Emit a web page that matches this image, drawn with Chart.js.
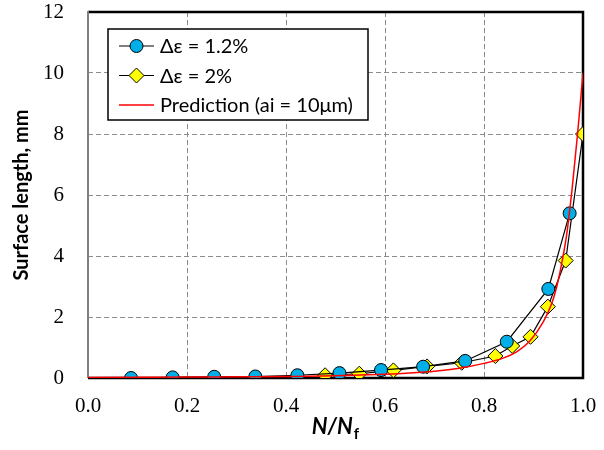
<!DOCTYPE html>
<html><head><meta charset="utf-8">
<script src="https://cdn.jsdelivr.net/npm/chart.js@4/dist/chart.umd.min.js"></script>
<style>html,body{margin:0;padding:0;background:#fff;} canvas{display:block;}</style>
</head><body>
<canvas id="c" width="604" height="450"></canvas>
<script>
// ---- data ----
const xTicks = [0.0, 0.2, 0.4, 0.6, 0.8, 1.0];
const yTicks = [0, 2, 4, 6, 8, 10, 12];
const blueX = [0.087, 0.171, 0.255, 0.338, 0.423, 0.508, 0.592, 0.677, 0.762, 0.846, 0.930, 0.973];
const blueY = [0.0, 0.02, 0.04, 0.05, 0.09, 0.16, 0.26, 0.37, 0.56, 1.19, 2.92, 5.4];
const yellowX = [0.479, 0.548, 0.617, 0.685, 0.755, 0.823, 0.857, 0.894, 0.929, 0.965, 1.0];
const yellowY = [0.09, 0.14, 0.25, 0.38, 0.50, 0.72, 1.05, 1.35, 2.34, 3.85, 8.0];
const predX = [0, 0.1, 0.2, 0.3, 0.4, 0.5, 0.6, 0.65, 0.7, 0.75, 0.8, 0.84, 0.865, 0.893, 0.92, 0.937, 0.947, 0.957, 0.967, 0.978, 0.989, 1.0];
const predY = [0.02, 0.025, 0.03, 0.04, 0.05, 0.07, 0.12, 0.16, 0.22, 0.32, 0.48, 0.66, 0.85, 1.22, 1.85, 2.45, 3.0, 3.76, 4.7, 6.2, 8.0, 10.0];
const seriesLabels = ['Δε = 1.2%', 'Δε = 2%', 'Prediction (ai = 10μm)'];
const yTitle = 'Surface length, mm';
const xTitleMain = 'N/N';
const xTitleSub = 'f';

const toPts = (xs, ys) => xs.map((x, i) => ({ x: x, y: ys[i] }));
const SANS = 'Lato, "Open Sans", sans-serif';
const SERIF = '"Liberation Serif", "Times New Roman", serif';

const framePlugin = {
  id: 'frame',
  beforeDatasetsDraw(chart) {
    const { ctx, chartArea: a } = chart;
    ctx.save();
    ctx.lineWidth = 2.5;
    ctx.strokeStyle = '#000';
    ctx.beginPath();
    ctx.moveTo(a.left, a.top);
    ctx.lineTo(a.right, a.top);
    ctx.lineTo(a.right, a.bottom);
    ctx.lineTo(a.left, a.bottom);
    ctx.stroke();
    ctx.strokeStyle = '#808080';
    ctx.lineWidth = 2;
    ctx.beginPath();
    ctx.moveTo(a.left, a.top - 1);
    ctx.lineTo(a.left, a.bottom);
    ctx.stroke();
    ctx.restore();
  }
};

function drawMarker(ctx, ds, x, y) {
  if (!ds.pointRadius) return;
  ctx.fillStyle = ds.pointBackgroundColor;
  ctx.strokeStyle = ds.pointBorderColor;
  ctx.lineWidth = ds.pointBorderWidth;
  ctx.beginPath();
  const r = ds.pointRadius;
  if (ds.pointStyle === 'rectRot') {
    ctx.moveTo(x, y - r); ctx.lineTo(x + r, y); ctx.lineTo(x, y + r); ctx.lineTo(x - r, y); ctx.closePath();
  } else {
    ctx.arc(x, y, r, 0, Math.PI * 2);
  }
  ctx.fill(); ctx.stroke();
}

const legendPlugin = {
  id: 'boxLegend',
  afterDraw(chart) {
    const { ctx, chartArea: a } = chart;
    const bx = a.left + 20, by = a.top + 17, bw = 260, bh = 91;
    ctx.save();
    ctx.fillStyle = '#fff';
    ctx.fillRect(bx, by, bw, bh);
    ctx.strokeStyle = '#000';
    ctx.lineWidth = 1.5;
    ctx.strokeRect(bx, by, bw, bh);
    const order = [1, 2, 0];
    order.forEach((di, row) => {
      const ds = chart.data.datasets[di];
      const cy = by + 17 + row * 29.5;
      const x0 = bx + 11, x1 = bx + 46;
      ctx.strokeStyle = ds.borderColor;
      ctx.lineWidth = ds.borderWidth;
      ctx.beginPath(); ctx.moveTo(x0, cy); ctx.lineTo(x1, cy); ctx.stroke();
      drawMarker(ctx, ds, (x0 + x1) / 2, cy);
      ctx.fillStyle = '#000';
      ctx.font = '20px ' + SANS;
      ctx.textBaseline = 'middle';
      ctx.textAlign = 'left';
      ctx.fillText(ds.label, bx + 52, cy + 1);
    });
    ctx.restore();
  }
};

const xTitlePlugin = {
  id: 'xTitle',
  afterDraw(chart) {
    const { ctx, chartArea: a } = chart;
    ctx.save();
    ctx.fillStyle = '#000';
    ctx.textBaseline = 'alphabetic';
    ctx.textAlign = 'left';
    const mainFont = 'italic bold 22px ' + SANS;
    const subFont = 'bold 15px ' + SANS;
    ctx.font = mainFont;
    const w1 = ctx.measureText(xTitleMain).width;
    ctx.font = subFont;
    const w2 = ctx.measureText(xTitleSub).width;
    const cx = (a.left + a.right) / 2;
    const x = cx - (w1 + w2 + 1) / 2;
    const base = 434;
    ctx.font = mainFont;
    ctx.fillText(xTitleMain, x, base);
    ctx.font = subFont;
    ctx.fillText(xTitleSub, x + w1 + 1, base + 5);
    ctx.restore();
  }
};

new Chart(document.getElementById('c'), {
  type: 'scatter',
  data: {
    datasets: [
      {
        label: seriesLabels[2], data: toPts(predX, predY), showLine: true,
        borderColor: '#ff0000', borderWidth: 1.5, pointRadius: 0, pointHoverRadius: 0,
        cubicInterpolationMode: 'monotone', order: 0
      },
      {
        label: seriesLabels[0], data: toPts(blueX, blueY), showLine: true,
        borderColor: '#000', borderWidth: 1.2, pointStyle: 'circle', pointRadius: 6.5,
        pointBackgroundColor: '#00aee8', pointBorderColor: '#000', pointBorderWidth: 1, order: 1
      },
      {
        label: seriesLabels[1], data: toPts(yellowX, yellowY), showLine: true,
        borderColor: '#000', borderWidth: 1.2, pointStyle: 'rectRot', pointRadius: 7.5,
        pointBackgroundColor: '#ffff00', pointBorderColor: '#000', pointBorderWidth: 1, order: 1
      }
    ]
  },
  options: {
    responsive: false,
    animation: false,
    layout: { padding: { left: 0, top: 12, right: 21, bottom: 0 } },
    plugins: { legend: { display: false }, tooltip: { enabled: false } },
    scales: {
      x: {
        type: 'linear', min: 0, max: 1,
        afterBuildTicks: s => { s.ticks = xTicks.map(v => ({ value: v })); },
        afterFit: s => { s.height = 72; s.paddingLeft = 0; s.paddingRight = 0; },
        ticks: { color: '#000', font: { family: SERIF, size: 21 }, padding: 16, maxRotation: 0,
                 callback: v => Number(v).toFixed(1) },
        grid: { color: '#8c8c8c', lineWidth: 1, drawTicks: false },
        border: { display: false, dash: [5, 3] }
      },
      y: {
        type: 'linear', min: 0, max: 12,
        afterBuildTicks: s => { s.ticks = yTicks.map(v => ({ value: v })); },
        afterFit: s => { s.width = 88; s.paddingTop = 0; s.paddingBottom = 0; },
        ticks: { color: '#000', font: { family: SERIF, size: 21 }, padding: 24 },
        grid: { color: '#8c8c8c', lineWidth: 1, drawTicks: false },
        border: { display: false, dash: [5, 3] },
        title: { display: true, text: yTitle, color: '#000',
                 font: { family: SANS, size: 20, weight: 'bold' }, padding: { top: 10, bottom: 0 } }
      }
    }
  },
  plugins: [framePlugin, legendPlugin, xTitlePlugin]
});
</script>
</body></html>
